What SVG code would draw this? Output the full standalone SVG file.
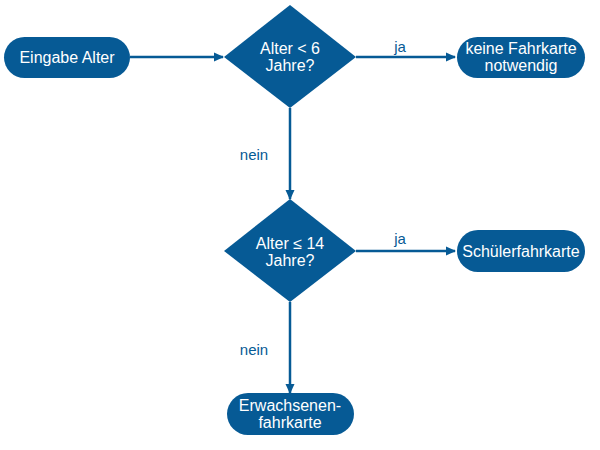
<svg xmlns="http://www.w3.org/2000/svg" width="600" height="450" viewBox="0 0 600 450">
<style>
.n{fill:#065a95}
.t{fill:#fff;font-family:"Liberation Sans",Arial,sans-serif;font-size:16px;text-anchor:middle}
.l{fill:#065a95;font-family:"Liberation Sans",Arial,sans-serif;font-size:15px;text-anchor:middle}
.c{stroke:#065a95;stroke-width:2.5;fill:none;marker-end:url(#a)}
</style>
<defs>
<marker id="a" markerWidth="10" markerHeight="10" refX="9" refY="5" orient="auto" markerUnits="userSpaceOnUse">
<path d="M0,0.5 L10,5 L0,9.5 Z" fill="#065a95"/>
</marker>
</defs>
<rect width="600" height="450" fill="#fff"/>
<g id="connectors">
<line class="c" x1="130" y1="57" x2="223" y2="57"/>
<line class="c" x1="356" y1="57" x2="455" y2="57"/>
<line class="c" x1="290" y1="108" x2="290" y2="199"/>
<line class="c" x1="356" y1="251" x2="455" y2="251"/>
<line class="c" x1="290" y1="302" x2="290" y2="393"/>
<text class="l" x="400" y="52">ja</text>
<text class="l" x="254" y="160">nein</text>
<text class="l" x="400" y="244">ja</text>
<text class="l" x="254" y="355">nein</text>
</g>
<g id="start">
<rect class="n" x="4" y="37" width="126" height="41" rx="20.5"/>
<text class="t" x="67" y="63">Eingabe Alter</text>
</g>
<g id="d1">
<polygon class="n" points="290,5 356,57 290,108 224,57"/>
<text class="t" x="290" y="54">Alter &lt; 6</text>
<text class="t" x="290" y="71">Jahre?</text>
</g>
<g id="keine">
<rect class="n" x="457" y="37" width="128" height="41" rx="20.5"/>
<text class="t" x="521" y="54">keine Fahrkarte</text>
<text class="t" x="521" y="71">notwendig</text>
</g>
<g id="d2">
<polygon class="n" points="290,199 356,251 290,302 224,251"/>
<text class="t" x="290" y="249">Alter ≤ 14</text>
<text class="t" x="290" y="266">Jahre?</text>
</g>
<g id="schueler">
<rect class="n" x="457" y="230" width="128" height="42" rx="21"/>
<text class="t" x="521" y="257">Schülerfahrkarte</text>
</g>
<g id="erw">
<rect class="n" x="227" y="393" width="127" height="42" rx="21"/>
<text class="t" x="290" y="411">Erwachsenen-</text>
<text class="t" x="290" y="428">fahrkarte</text>
</g>
</svg>
